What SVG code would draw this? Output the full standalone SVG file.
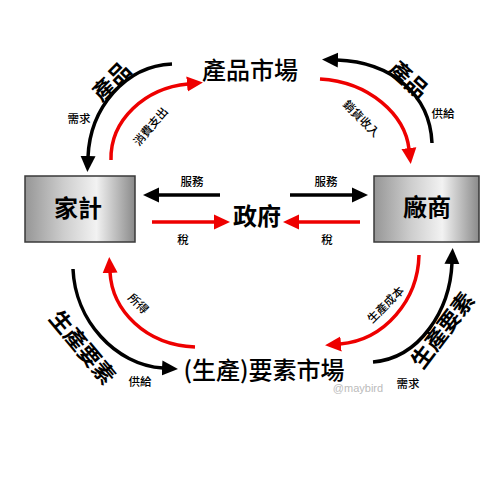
<svg xmlns="http://www.w3.org/2000/svg" width="500" height="500" viewBox="0 0 500 500">
<defs>
<linearGradient id="metal" x1="0" y1="0" x2="1" y2="0">
<stop offset="0" stop-color="#969696"/>
<stop offset="0.35" stop-color="#cdcdcd"/>
<stop offset="0.65" stop-color="#f2f2f2"/>
<stop offset="1" stop-color="#8a8a8a"/>
</linearGradient>
<marker id="ab" markerUnits="userSpaceOnUse" markerWidth="18" markerHeight="18" viewBox="0 -9 18 18" refX="1" refY="0" orient="auto">
<path d="M0,-7.5 L16,0 L0,7.5 z" fill="#000"/>
</marker>
<marker id="ar" markerUnits="userSpaceOnUse" markerWidth="18" markerHeight="18" viewBox="0 -9 18 18" refX="1" refY="0" orient="auto">
<path d="M0,-7.5 L16,0 L0,7.5 z" fill="#ee0000"/>
</marker>
<style>
.cjk{font-family:"Noto Sans CJK TC","Noto Sans CJK SC",sans-serif;fill:#000}
.big{font-size:24px;font-weight:bold}
.mkt{font-size:24px;font-weight:500}
.rot{font-size:22px;font-weight:bold}
.sm{font-size:11.5px;font-weight:500}
.box{fill:url(#metal);stroke:#3a3a3a;stroke-width:1.5}
.bk{fill:none;stroke:#000;stroke-width:3.5;marker-end:url(#ab)}
.rd{fill:none;stroke:#ee0000;stroke-width:3.5;marker-end:url(#ar)}
</style>
</defs>
<rect width="500" height="500" fill="#fff"/>
<g id="connectors">
<path class="bk" d="M172,64 C125,66 90,108 88,157"/>
<path class="rd" d="M111,160 C110,120 145,88 188,84"/>
<path class="bk" d="M432,143 C430,95 392,62 337,60"/>
<path class="rd" d="M320,79 C370,82 405,115 409,149"/>
<path class="bk" d="M73,269 C75,320 115,365 163,368"/>
<path class="rd" d="M195,347 C145,345 112,310 110,272"/>
<path class="bk" d="M373,362 C420,358 450,310 452,263"/>
<path class="rd" d="M419,255 C418,300 385,340 340,344"/>
<path class="bk" d="M220,195 L158,195"/>
<path class="rd" d="M152,222 L215,222"/>
<path class="bk" d="M290,195 L353,195"/>
<path class="rd" d="M360,222 L298,222"/>
<text class="cjk rot" transform="translate(110,80) rotate(-45)" text-anchor="middle" dominant-baseline="central">產品</text>
<text class="cjk sm" x="79" y="118" text-anchor="middle" dominant-baseline="central">需求</text>
<text class="cjk sm" transform="translate(150,126) rotate(-50)" text-anchor="middle" dominant-baseline="central">消費支出</text>
<text class="cjk rot" transform="translate(410,78) rotate(42)" text-anchor="middle" dominant-baseline="central">產品</text>
<text class="cjk sm" x="443" y="113" text-anchor="middle" dominant-baseline="central">供給</text>
<text class="cjk sm" transform="translate(362,118) rotate(45)" text-anchor="middle" dominant-baseline="central">銷貨收入</text>
<text class="cjk sm" x="192" y="181" text-anchor="middle" dominant-baseline="central">服務</text>
<text class="cjk sm" x="183" y="239" text-anchor="middle" dominant-baseline="central">稅</text>
<text class="cjk sm" x="326" y="181" text-anchor="middle" dominant-baseline="central">服務</text>
<text class="cjk sm" x="327" y="239" text-anchor="middle" dominant-baseline="central">稅</text>
<text class="cjk rot" transform="translate(84,346) rotate(50)" text-anchor="middle" dominant-baseline="central">生產要素</text>
<text class="cjk sm" x="140" y="381" text-anchor="middle" dominant-baseline="central">供給</text>
<text class="cjk sm" transform="translate(139,303) rotate(45)" text-anchor="middle" dominant-baseline="central">所得</text>
<text class="cjk rot" transform="translate(441,329) rotate(-53)" text-anchor="middle" dominant-baseline="central">生產要素</text>
<text class="cjk sm" x="408" y="383" text-anchor="middle" dominant-baseline="central">需求</text>
<text class="cjk sm" transform="translate(385,304) rotate(-45)" text-anchor="middle" dominant-baseline="central">生產成本</text>
</g>
<g id="household">
<rect class="box" x="25" y="176" width="110" height="66"/>
<text class="cjk big" x="78" y="206" text-anchor="middle" dominant-baseline="central">家計</text>
</g>
<g id="firm">
<rect class="box" x="374" y="176" width="105" height="66"/>
<text class="cjk big" x="427" y="205" text-anchor="middle" dominant-baseline="central">廠商</text>
</g>
<g id="government">
<text class="cjk big" x="257" y="214" text-anchor="middle" dominant-baseline="central">政府</text>
</g>
<g id="product-market">
<text class="cjk mkt" x="250" y="68" text-anchor="middle" dominant-baseline="central">產品市場</text>
</g>
<g id="factor-market">
<text class="cjk mkt" x="264" y="368" text-anchor="middle" dominant-baseline="central">(生產)要素市場</text>
</g>
<text x="358" y="388" text-anchor="middle" dominant-baseline="central" style="font-family:'Liberation Sans',sans-serif;font-size:11px;fill:#bbb">@maybird</text>
</svg>
